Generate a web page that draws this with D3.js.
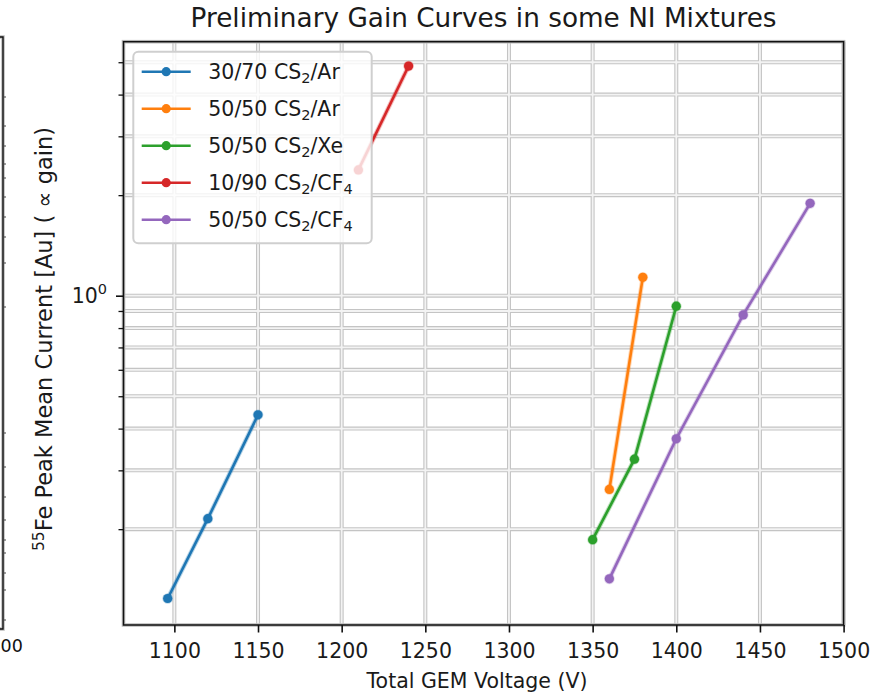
<!DOCTYPE html>
<html>
<head>
<meta charset="utf-8">
<script src="https://cdn.jsdelivr.net/npm/d3@7"></script>
<style>
  html, body { margin: 0; padding: 0; background: #fff; }
  svg { display: block; font-family: "DejaVu Sans", sans-serif; }
</style>
</head>
<body>
<svg id="chart" width="879" height="694"></svg>
<script>
// ---------- data ----------
const seriesKeys = ["a", "b", "c", "d", "e"];
const labelMain = ["30/70 CS", "50/50 CS", "50/50 CS", "10/90 CS", "50/50 CS"];
const labelSub = ["2", "2", "2", "2", "2"];
const labelGas = ["/Ar", "/Ar", "/Xe", "/CF", "/CF"];
const labelGasSub = ["", "", "", "4", "4"];
const colors = ["#1f77b4", "#ff7f0e", "#2ca02c", "#d62728", "#9467bd"];

const voltsA = [1096, 1120, 1150];
const gainA = [0.124, 0.215, 0.44];
const voltsB = [1360, 1380];
const gainB = [0.263, 1.135];
const voltsC = [1350, 1375, 1400];
const gainC = [0.186, 0.324, 0.93];
const voltsD = [1210, 1240];
const gainD = [2.38, 4.87];
const voltsE = [1360, 1400, 1440, 1480];
const gainE = [0.142, 0.373, 0.876, 1.89];

const xTicks = [1100, 1150, 1200, 1250, 1300, 1350, 1400, 1450, 1500];
const yMajor = [1];
const yMinor = [0.2, 0.3, 0.4, 0.5, 0.6, 0.7, 0.8, 0.9, 2, 3, 4, 5];

const titleText = "Preliminary Gain Curves in some NI Mixtures";
const xLabelText = "Total GEM Voltage (V)";
const yLabelSup = "55";
const yLabelText = "Fe Peak Mean Current [Au] ( \u221D gain)";
const ghostLabel = "00";

const xs = [voltsA, voltsB, voltsC, voltsD, voltsE];
const ys = [gainA, gainB, gainC, gainD, gainE];
const series = seriesKeys.map((k, i) => ({
  key: k, color: colors[i],
  pts: xs[i].map((v, j) => ({ x: v, y: ys[i][j] }))
}));

// ---------- layout ----------
const L = 123.5, R = 843.6, T = 41.7, B = 625;
const svg = d3.select("#chart");
const x = d3.scaleLinear().domain([1069.6, 1500]).range([L, R]);
const y = d3.scaleLog().domain([0.1033, 5.76]).range([B, T]);

// ghost axis at far left
const ghost = svg.append("g");
ghost.append("path").attr("d", "M0,37 H3 V629 H0").attr("fill", "none")
  .attr("stroke", "#bbb").attr("stroke-width", 3.5);
ghost.append("path").attr("d", "M0,37 H3 V629 H0").attr("fill", "none")
  .attr("stroke", "#111").attr("stroke-width", 1.4);
const ghostTicks = [97, 126, 146, 164, 178, 197, 217, 237, 263, 307, 433, 467, 497, 520, 540, 553, 573, 590, 620];
ghost.selectAll("line.gt").data(ghostTicks).join("line")
  .attr("x1", 3).attr("x2", 6).attr("y1", d => d).attr("y2", d => d)
  .attr("stroke", "#444").attr("stroke-width", 1);
ghost.append("text").attr("x", 0.5).attr("y", 652)
  .attr("font-size", 17.5).attr("fill", "#111").text(ghostLabel);

// clip for plot
svg.append("clipPath").attr("id", "clip").append("rect")
  .attr("x", L).attr("y", T).attr("width", R - L).attr("height", B - T);

// grid (double-line look)
const grid = svg.append("g");
function gridLines(sel) {
  sel.selectAll("line.gx").data(xTicks).join("line").attr("class", "gx")
    .attr("x1", d => x(d)).attr("x2", d => x(d)).attr("y1", T).attr("y2", B);
  sel.selectAll("line.gy").data(yMajor.concat(yMinor)).join("line").attr("class", "gy")
    .attr("x1", L).attr("x2", R).attr("y1", d => y(d)).attr("y2", d => y(d));
}
const gOuter = grid.append("g").attr("stroke", "#c4c4c4").attr("stroke-width", 4);
gridLines(gOuter);
const gInner = grid.append("g").attr("stroke", "#f3f3f3").attr("stroke-width", 1.8);
gridLines(gInner);

// series
const plot = svg.append("g").attr("clip-path", "url(#clip)");
const line = d3.line().x(d => x(d.x)).y(d => y(d.y));
series.forEach(s => {
  const g = plot.append("g");
  g.append("path").datum(s.pts).attr("d", line).attr("fill", "none")
    .attr("stroke", s.color).attr("stroke-opacity", 0.3).attr("stroke-width", 4.6);
  g.append("path").datum(s.pts).attr("d", line).attr("fill", "none")
    .attr("stroke", s.color).attr("stroke-width", 2.6);
  g.selectAll("circle").data(s.pts).join("circle")
    .attr("cx", d => x(d.x)).attr("cy", d => y(d.y)).attr("r", 4.6)
    .attr("fill", s.color).attr("stroke", s.color).attr("stroke-opacity", 0.3).attr("stroke-width", 1.5);
});

// legend
const leg = svg.append("g");
leg.append("rect").attr("x", 133.3).attr("y", 51.7).attr("width", 238.4).attr("height", 191.6)
  .attr("rx", 5).attr("fill", "#fff").attr("fill-opacity", 0.8)
  .attr("stroke", "#cfcfcf").attr("stroke-width", 2);
series.forEach((s, i) => {
  const cy = 71.7 + i * 37;
  leg.append("line").attr("x1", 141.7).attr("x2", 190.7).attr("y1", cy).attr("y2", cy)
    .attr("stroke", s.color).attr("stroke-width", 2.6);
  leg.append("circle").attr("cx", 166.2).attr("cy", cy).attr("r", 4.6).attr("fill", s.color);
  const t = leg.append("text").attr("x", 208.3).attr("y", cy + 6.8)
    .attr("font-size", 20.5).attr("fill", "#1a1a1a");
  t.append("tspan").text(labelMain[i]);
  t.append("tspan").attr("font-size", 14.5).attr("dy", 4.5).text(labelSub[i]);
  t.append("tspan").attr("dy", -4.5).text(labelGas[i]);
  if (labelGasSub[i]) t.append("tspan").attr("font-size", 14.5).attr("dy", 4.5).text(labelGasSub[i]);
});

// frame
const frame = svg.append("g");
frame.append("rect").attr("x", L).attr("y", T).attr("width", R - L).attr("height", B - T)
  .attr("fill", "none").attr("stroke", "#bdbdbd").attr("stroke-width", 3.6);
frame.append("rect").attr("x", L).attr("y", T).attr("width", R - L).attr("height", B - T)
  .attr("fill", "none").attr("stroke", "#111").attr("stroke-width", 1.5);

// x axis
const xAxis = svg.append("g").attr("transform", `translate(0,${B})`)
  .call(d3.axisBottom(x).tickValues(xTicks).tickSize(7.5).tickPadding(8).tickFormat(d3.format("d")));
xAxis.select(".domain").remove();
xAxis.selectAll(".tick line").attr("stroke", "#111").attr("stroke-width", 1.6);
xAxis.selectAll(".tick text").attr("font-size", 20.5).attr("fill", "#1a1a1a")
  .attr("font-family", "DejaVu Sans").attr("dy", null).attr("y", 33);

// y axis: minor ticks
const yAxisMinor = svg.append("g").attr("transform", `translate(${L},0)`)
  .call(d3.axisLeft(y).tickValues(yMinor).tickSize(5).tickFormat(""));
yAxisMinor.select(".domain").remove();
yAxisMinor.selectAll(".tick line").attr("stroke", "#111").attr("stroke-width", 1.3);
// y axis: major
const yAxisMajor = svg.append("g").attr("transform", `translate(${L},0)`)
  .call(d3.axisLeft(y).tickValues(yMajor).tickSize(7.5).tickFormat(""));
yAxisMajor.select(".domain").remove();
yAxisMajor.selectAll(".tick line").attr("stroke", "#111").attr("stroke-width", 1.6);
yMajor.forEach(v => {
  const t = svg.append("text").attr("x", 107).attr("y", y(v) + 7.5)
    .attr("text-anchor", "end").attr("font-size", 20.5).attr("fill", "#1a1a1a");
  t.append("tspan").text("10");
  t.append("tspan").attr("font-size", 14.5).attr("dy", -9).text(String(Math.round(Math.log10(v))));
});

// title & labels
svg.append("text").attr("x", (L + R) / 2).attr("y", 27).attr("text-anchor", "middle")
  .attr("font-size", 26.3).attr("fill", "#1a1a1a").text(titleText);
svg.append("text").attr("x", 477).attr("y", 688).attr("text-anchor", "middle")
  .attr("font-size", 20.5).attr("fill", "#1a1a1a").text(xLabelText);
const yl = svg.append("text").attr("transform", `translate(52,339) rotate(-90)`)
  .attr("text-anchor", "middle").attr("font-size", 22.5).attr("fill", "#1a1a1a");
yl.append("tspan").attr("font-size", 15.5).attr("dy", -8.5).text(yLabelSup);
yl.append("tspan").attr("dy", 8.5).text(yLabelText);
</script>
</body>
</html>
